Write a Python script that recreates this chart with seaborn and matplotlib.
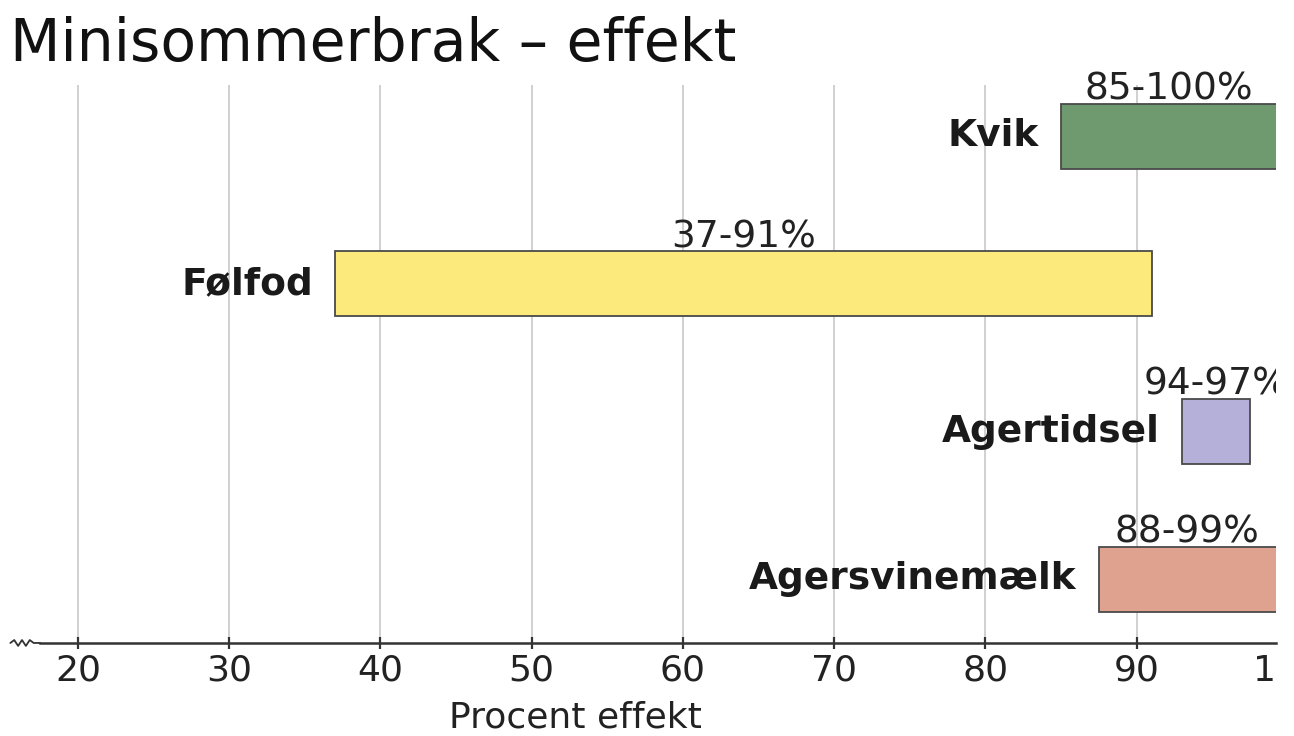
import matplotlib
matplotlib.use("Agg")
import matplotlib.pyplot as plt
from matplotlib.lines import Line2D
from matplotlib.transforms import Bbox, TransformedBbox
import seaborn as sns
import pandas as pd

# data
weeds = ["Kvik", "Følfod", "Agertidsel", "Agersvinemælk"]
effect_low = [85, 37, 93, 87.5]
effect_high = [100, 91, 97.5, 99.5]
range_labels = ["85-100%", "37-91%", "94-97%", "88-99%"]
bar_colors = ["#6f9a70", "#fcea7c", "#b4b0da", "#dea28e"]
xticks = [20, 30, 40, 50, 60, 70, 80, 90]
cut_tick = 100  # last tick, mostly cropped off in the picture

df = pd.DataFrame({
    "weed": weeds,
    "low": effect_low,
    "span": [h - l for l, h in zip(effect_low, effect_high)],
})

sns.set_theme(style="white")
plt.rcParams["font.family"] = ["DejaVu Sans"]

fig = plt.figure(figsize=(12.94, 7.36), dpi=100)
ax = fig.add_axes([0.031, 0.1264, 0.955, 0.758])

sns.barplot(
    data=df, x="span", y="weed", order=weeds, orient="y", errorbar=None,
    color="#888888", left=df["low"].tolist(), facecolor=bar_colors,
    edgecolor="#4a4a4a", linewidth=1.3, width=0.44, ax=ax, zorder=3,
)

ax.set_xticks(xticks)
ax.set_xticklabels([str(t) for t in xticks], fontsize=26, color="#222222")
ax.set_xlim(17.5, 99.2)
ax.set_ylim(3.43, -0.345)
ax.set_yticks([])
ax.set_ylabel("")
ax.set_xlabel("Procent effekt", fontsize=26, color="#222222")
ax.xaxis.set_label_coords(0.433, -0.104)
ax.xaxis.label.set_va("top")
ax.grid(axis="x", color="#c8c8c8", linewidth=1.2, zorder=0)
for side in ["top", "right", "left"]:
    ax.spines[side].set_visible(False)
ax.spines["bottom"].set_color("#333333")
ax.spines["bottom"].set_linewidth(1.8)
ax.tick_params(axis="x", direction="inout", length=9, width=1.6,
               color="#333333", pad=3, bottom=True)

# the picture is cropped just right of 99: the "100" label shows only its "1"
crop = TransformedBbox(Bbox([[0, 0], [1276 / 1294, 1]]), fig.transFigure)
t100 = ax.annotate(str(cut_tick), xy=(cut_tick, 0), xycoords=("data", "axes fraction"),
                   xytext=(0, -7.5), textcoords="offset points", ha="center",
                   va="top", fontsize=26, color="#222222", annotation_clip=False)
t100.set_clip_box(crop)
t100.set_clip_on(True)

for i, (lo, hi, lab) in enumerate(zip(effect_low, effect_high, range_labels)):
    ax.annotate(weeds[i], xy=(lo, i), xytext=(-16, 0), textcoords="offset points",
                ha="right", va="center", fontsize=27, fontweight="bold",
                color="#1a1a1a")
    rt = ax.annotate(lab, xy=((lo + min(hi, 99.2)) / 2, i - 0.22), xytext=(0, 3),
                     textcoords="offset points", ha="center", va="baseline",
                     fontsize=27, color="#222222", annotation_clip=False)
    rt.set_clip_box(crop)
    rt.set_clip_on(True)

# axis break zigzag at left end
zx = [0.008, 0.011, 0.014, 0.017, 0.020, 0.023, 0.026, 0.031]
zy = [0.1264, 0.1304, 0.1224, 0.1304, 0.1224, 0.1304, 0.1264, 0.1264]
fig.add_artist(Line2D(zx, zy, color="#333333", linewidth=1.3))

fig.text(0.008, 0.978, "Minisommerbrak \u2013 effekt", fontsize=42,
         ha="left", va="top", color="#111111")

fig.savefig("out.png", dpi=100, facecolor="white")
